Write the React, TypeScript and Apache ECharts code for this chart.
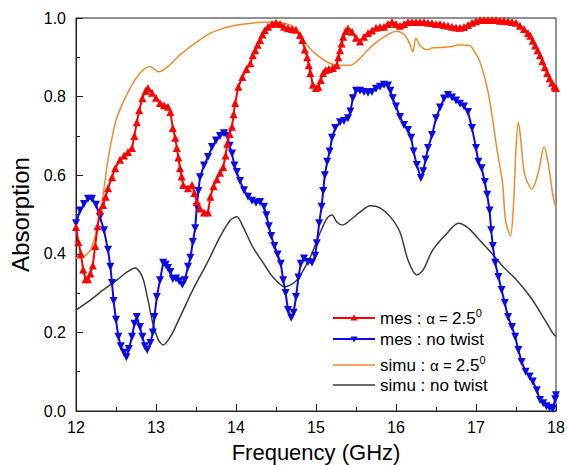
import React, { useEffect, useRef } from "react";
import * as echarts from "echarts";

// ---- measured: alpha = 2.5 deg (red, up triangles)
const redFreq = [
  12.0, 12.03, 12.06, 12.09, 12.12, 12.15, 12.18, 12.21, 12.24, 12.27, 12.3, 12.34, 12.37, 12.4, 12.45, 12.49, 12.55, 12.6, 12.65, 12.7,
  12.73, 12.76, 12.79, 12.83, 12.87, 12.9, 12.95, 13.0, 13.05, 13.1, 13.15, 13.18, 13.21, 13.24, 13.26, 13.28, 13.3, 13.32, 13.34, 13.4,
  13.45, 13.48, 13.51, 13.55, 13.6, 13.65, 13.68, 13.72, 13.76, 13.8, 13.84, 13.87, 13.89, 13.92, 13.95, 13.97, 13.99, 14.03, 14.08, 14.13,
  14.18, 14.21, 14.24, 14.27, 14.3, 14.33, 14.36, 14.4, 14.45, 14.5, 14.55, 14.6, 14.65, 14.7, 14.75, 14.8, 14.83, 14.86, 14.89, 14.91,
  14.93, 14.96, 15.0, 15.03, 15.06, 15.09, 15.12, 15.16, 15.21, 15.26, 15.28, 15.3, 15.32, 15.34, 15.37, 15.4, 15.45, 15.5, 15.55, 15.6,
  15.65, 15.7, 15.75, 15.8, 15.85, 15.9, 15.95, 16.0, 16.05, 16.1, 16.15, 16.2, 16.25, 16.3, 16.35, 16.4, 16.45, 16.5, 16.55, 16.6,
  16.65, 16.7, 16.75, 16.8, 16.85, 16.9, 16.95, 17.0, 17.05, 17.1, 17.15, 17.2, 17.25, 17.3, 17.35, 17.4, 17.45, 17.5, 17.55, 17.6,
  17.65, 17.68, 17.71, 17.74, 17.77, 17.8, 17.83, 17.86, 17.89, 17.92, 17.95, 17.98, 18.0,
];
const redAbs = [
  0.468, 0.43, 0.4, 0.36, 0.335, 0.335, 0.35, 0.37, 0.42, 0.47, 0.51, 0.524, 0.545, 0.567, 0.595, 0.618, 0.639, 0.65, 0.659, 0.669,
  0.7, 0.735, 0.765, 0.796, 0.815, 0.822, 0.81, 0.797, 0.784, 0.778, 0.774, 0.761, 0.72, 0.695, 0.669, 0.645, 0.618, 0.597, 0.575, 0.567,
  0.575, 0.555, 0.532, 0.515, 0.505, 0.505, 0.545, 0.572, 0.59, 0.606, 0.621, 0.65, 0.68, 0.705, 0.723, 0.755, 0.784, 0.825, 0.85, 0.87,
  0.885, 0.905, 0.918, 0.932, 0.944, 0.958, 0.969, 0.978, 0.985, 0.988, 0.985, 0.978, 0.974, 0.972, 0.97, 0.957, 0.944, 0.92, 0.9, 0.88,
  0.86, 0.83, 0.822, 0.825, 0.842, 0.86, 0.868, 0.87, 0.873, 0.88, 0.9, 0.918, 0.935, 0.952, 0.967, 0.973, 0.965, 0.95, 0.94, 0.952,
  0.962, 0.968, 0.975, 0.977, 0.978, 0.985, 0.99, 0.985, 0.98, 0.985, 0.99, 0.99, 0.99, 0.99, 0.99, 0.988, 0.987, 0.985, 0.985, 0.982,
  0.98, 0.978, 0.976, 0.975, 0.977, 0.982, 0.988, 0.992, 0.995, 0.995, 0.995, 0.995, 0.995, 0.993, 0.993, 0.992, 0.99, 0.988, 0.98, 0.972,
  0.962, 0.955, 0.942, 0.93, 0.918, 0.905, 0.89, 0.875, 0.86, 0.847, 0.835, 0.826, 0.822,
];

// ---- measured: no twist (blue, down triangles)
const blueFreq = [
  12.0, 12.05, 12.1, 12.15, 12.2, 12.25, 12.3, 12.35, 12.4, 12.43, 12.45, 12.47, 12.5, 12.53, 12.56, 12.6, 12.63, 12.66, 12.7, 12.73,
  12.76, 12.8, 12.83, 12.86, 12.89, 12.93, 12.96, 12.98, 13.01, 13.05, 13.09, 13.12, 13.15, 13.18, 13.21, 13.25, 13.29, 13.33, 13.36, 13.4,
  13.43, 13.46, 13.49, 13.51, 13.53, 13.55, 13.6, 13.65, 13.7, 13.75, 13.8, 13.85, 13.89, 13.92, 13.95, 13.98, 14.01, 14.05, 14.1, 14.15,
  14.2, 14.25, 14.3, 14.35, 14.38, 14.41, 14.44, 14.48, 14.52, 14.56, 14.59, 14.62, 14.65, 14.69, 14.72, 14.75, 14.78, 14.81, 14.85, 14.9,
  14.95, 14.99, 15.01, 15.04, 15.07, 15.09, 15.11, 15.14, 15.17, 15.2, 15.24, 15.3, 15.35, 15.4, 15.43, 15.46, 15.5, 15.55, 15.6, 15.65,
  15.7, 15.75, 15.8, 15.85, 15.9, 15.93, 15.96, 16.0, 16.05, 16.1, 16.15, 16.19, 16.22, 16.26, 16.31, 16.34, 16.37, 16.4, 16.45, 16.5,
  16.55, 16.6, 16.65, 16.7, 16.75, 16.8, 16.85, 16.9, 16.95, 17.0, 17.03, 17.07, 17.11, 17.14, 17.17, 17.19, 17.21, 17.24, 17.28, 17.32,
  17.36, 17.4, 17.45, 17.49, 17.53, 17.57, 17.62, 17.67, 17.71, 17.76, 17.8, 17.84, 17.88, 17.92, 17.96, 17.99, 18.0,
];
const blueAbs = [
  0.478, 0.51, 0.527, 0.54, 0.54, 0.525, 0.494, 0.46, 0.41, 0.367, 0.326, 0.28, 0.232, 0.189, 0.165, 0.148, 0.137, 0.158, 0.189, 0.222,
  0.239, 0.214, 0.189, 0.165, 0.155, 0.173, 0.2, 0.239, 0.29, 0.333, 0.377, 0.372, 0.364, 0.354, 0.336, 0.337, 0.33, 0.321, 0.333, 0.367,
  0.39, 0.43, 0.465, 0.52, 0.56, 0.595, 0.625, 0.646, 0.672, 0.688, 0.7, 0.707, 0.7, 0.675, 0.655, 0.625, 0.608, 0.585, 0.562, 0.545,
  0.535, 0.53, 0.532, 0.52, 0.498, 0.47, 0.445, 0.42, 0.398, 0.375, 0.333, 0.3, 0.257, 0.237, 0.25, 0.29, 0.34, 0.375, 0.388, 0.379,
  0.377, 0.395, 0.427, 0.478, 0.52, 0.56, 0.6, 0.634, 0.66, 0.695, 0.72, 0.735, 0.738, 0.745, 0.762, 0.796, 0.815, 0.815, 0.812, 0.81,
  0.812, 0.82, 0.825, 0.83, 0.828, 0.815, 0.796, 0.775, 0.748, 0.728, 0.715, 0.695, 0.66, 0.626, 0.593, 0.61, 0.64, 0.669, 0.702, 0.745,
  0.772, 0.795, 0.804, 0.798, 0.79, 0.782, 0.775, 0.761, 0.72, 0.669, 0.634, 0.618, 0.583, 0.55, 0.51, 0.46, 0.42, 0.377, 0.341, 0.308,
  0.275, 0.239, 0.214, 0.189, 0.155, 0.125, 0.1, 0.088, 0.075, 0.053, 0.028, 0.02, 0.012, 0.008, 0.005, 0.03, 0.04,
];

// ---- simulation: alpha = 2.5 deg (orange)
const orangeFreq = [
  12.0, 12.09, 12.18, 12.26, 12.33, 12.39, 12.45, 12.51, 12.59, 12.7, 12.8, 12.89, 12.93, 13.03, 13.14, 13.3, 13.51, 13.71, 14.01, 14.46,
  14.68, 14.78, 14.89, 15.01, 15.14, 15.26, 15.43, 15.59, 15.71, 15.89, 16.01, 16.1, 16.16, 16.21, 16.25, 16.3, 16.39, 16.46, 16.64, 16.8,
  16.92, 16.98, 17.05, 17.14, 17.2, 17.26, 17.33, 17.37, 17.43, 17.47, 17.5, 17.53, 17.56, 17.61, 17.7, 17.78, 17.85, 17.9, 17.96, 18.0,
];
const orangeAbs = [
  0.389, 0.392, 0.41, 0.46, 0.537, 0.626, 0.695, 0.746, 0.786, 0.83, 0.86, 0.875, 0.876, 0.863, 0.875, 0.906, 0.939, 0.964, 0.982, 0.99,
  0.982, 0.964, 0.931, 0.906, 0.888, 0.88, 0.88, 0.906, 0.931, 0.957, 0.966, 0.958, 0.94, 0.914, 0.949, 0.93, 0.919, 0.924, 0.926, 0.931,
  0.93, 0.915, 0.888, 0.822, 0.753, 0.669, 0.583, 0.485, 0.445, 0.53, 0.669, 0.735, 0.69, 0.6, 0.565, 0.608, 0.672, 0.634, 0.55, 0.517,
];

// ---- simulation: no twist (dark grey)
const greyFreq = [
  12.0, 12.18, 12.34, 12.51, 12.64, 12.74, 12.83, 12.9, 12.96, 13.03, 13.09, 13.18, 13.3, 13.46, 13.64, 13.8, 13.93, 14.01, 14.09, 14.21,
  14.34, 14.46, 14.61, 14.76, 14.93, 15.05, 15.14, 15.2, 15.26, 15.33, 15.43, 15.55, 15.68, 15.8, 15.93, 16.05, 16.15, 16.26, 16.34, 16.46,
  16.64, 16.78, 16.89, 17.01, 17.18, 17.34, 17.51, 17.68, 17.84, 17.96, 18.0,
];
const greyAbs = [
  0.257, 0.282, 0.308, 0.333, 0.354, 0.364, 0.341, 0.282, 0.224, 0.181, 0.168, 0.189, 0.239, 0.308, 0.377, 0.443, 0.486, 0.494, 0.468, 0.417,
  0.377, 0.341, 0.316, 0.333, 0.392, 0.453, 0.491, 0.499, 0.481, 0.473, 0.486, 0.506, 0.522, 0.517, 0.494, 0.455, 0.384, 0.346, 0.359, 0.41,
  0.453, 0.478, 0.468, 0.443, 0.405, 0.367, 0.333, 0.29, 0.239, 0.198, 0.19,
];

const xTicks = [12, 13, 14, 15, 16, 17, 18];
const yTicks = [0.0, 0.2, 0.4, 0.6, 0.8, 1.0];

const RED = "#ff0000";
const BLUE = "#0a0ae6";
const ORANGE = "#ee8b2c";
const GREY = "#3c3c3c";
const FONT = "Liberation Sans, Arial, sans-serif";

const pairs = (xs: number[], ys: number[]) => xs.map((x, i) => [x, ys[i]]);

export default function App() {
  const ref = useRef<HTMLDivElement>(null);
  useEffect(() => {
    if (!ref.current) return;
    const chart = echarts.init(ref.current, undefined, { renderer: "svg" });

    const lx0 = 333, lx1 = 375, lmx = 354, ltx = 380;
    const rows = [318, 339, 365, 385];
    const tri = (cx: number, cy: number, up: boolean) => {
      const h = 3.5;
      return up
        ? [[cx, cy - h], [cx - 3.5, cy + h - 1], [cx + 3.5, cy + h - 1]]
        : [[cx, cy + h], [cx - 3.5, cy - h + 1], [cx + 3.5, cy - h + 1]];
    };
    const rich = {
      t: { fontSize: 17, fontFamily: FONT, fill: "#000", lineHeight: 22, verticalAlign: "middle" },
      a: { fontSize: 15, fontFamily: FONT, fill: "#000", lineHeight: 22, verticalAlign: "middle" },
      s: { fontSize: 11, fontFamily: FONT, fill: "#000", lineHeight: 22, verticalAlign: "top" },
    };
    const legendTexts = [
      "{t|mes : }{a|α = }{t|2.5}{s|0}",
      "{t|mes : no twist}",
      "{t|simu : }{a|α = }{t|2.5}{s|0}",
      "{t|simu : no twist}",
    ];
    const legendColors = [RED, BLUE, ORANGE, GREY];
    const graphics: any[] = [];
    rows.forEach((y, i) => {
      graphics.push({
        type: "line",
        shape: { x1: lx0, y1: y, x2: lx1, y2: y },
        style: { stroke: legendColors[i], lineWidth: i < 2 ? 2 : 1.5 },
        silent: true,
      });
      if (i < 2) {
        graphics.push({
          type: "polygon",
          shape: { points: tri(lmx, y, i === 0) },
          style: { fill: legendColors[i] },
          silent: true,
        });
      }
      graphics.push({
        type: "text",
        x: ltx,
        y: y,
        style: {
          text: legendTexts[i],
          rich,
          fill: "#000",
          align: "left",
          verticalAlign: "middle",
          fontFamily: FONT,
          fontSize: 17,
        },
        silent: true,
      });
    });

    chart.setOption({
      animation: false,
      backgroundColor: "#fff",
      grid: {
        left: 76, right: 11, top: 18, bottom: 54,
        outerBoundsMode: "none",
        containLabel: false,
        show: true, borderColor: "#222", borderWidth: 1, backgroundColor: "transparent",
      },
      xAxis: {
        type: "value",
        min: xTicks[0],
        max: xTicks[xTicks.length - 1],
        interval: 1,
        name: "Frequency (GHz)",
        nameLocation: "middle",
        nameGap: 30,
        nameTextStyle: { fontSize: 22, fontFamily: FONT, color: "#000" },
        axisLine: { show: true, onZero: false, lineStyle: { color: "#222", width: 1 } },
        axisTick: { show: true, inside: true, length: 7, lineStyle: { color: "#222" } },
        minorTick: { show: true, splitNumber: 2, length: 4, lineStyle: { color: "#222" } },
        splitLine: { show: false },
        axisLabel: { fontSize: 16, fontFamily: FONT, color: "#000", margin: 8 },
      },
      yAxis: {
        type: "value",
        min: yTicks[0],
        max: yTicks[yTicks.length - 1],
        interval: 0.2,
        name: "Absorption",
        nameLocation: "middle",
        nameGap: 38,
        nameTextStyle: { fontSize: 24, fontFamily: FONT, color: "#000" },
        axisLine: { show: true, lineStyle: { color: "#222", width: 1 } },
        axisTick: { show: true, inside: true, length: 7, lineStyle: { color: "#222" } },
        minorTick: { show: true, splitNumber: 2, length: 4, lineStyle: { color: "#222" } },
        splitLine: { show: false },
        axisLabel: { fontSize: 16, fontFamily: FONT, color: "#000", margin: 10, formatter: (v: number) => v.toFixed(1) },
      },
      series: [
        {
          name: "simu : no twist",
          type: "line",
          data: pairs(greyFreq, greyAbs),
          showSymbol: false,
          smooth: 0.3,
          lineStyle: { color: GREY, width: 1.5 },
          itemStyle: { color: GREY },
          z: 2,
        },
        {
          name: "simu : α = 2.5",
          type: "line",
          data: pairs(orangeFreq, orangeAbs),
          showSymbol: false,
          smooth: 0.3,
          lineStyle: { color: ORANGE, width: 1.5 },
          itemStyle: { color: ORANGE },
          z: 3,
        },
        {
          name: "mes : no twist",
          type: "line",
          data: pairs(blueFreq, blueAbs),
          symbol: "triangle",
          symbolRotate: 180,
          symbolSize: 8,
          showAllSymbol: true,
          lineStyle: { color: BLUE, width: 2 },
          itemStyle: { color: BLUE },
          z: 4,
        },
        {
          name: "mes : α = 2.5",
          type: "line",
          data: pairs(redFreq, redAbs),
          symbol: "triangle",
          symbolSize: 8,
          showAllSymbol: true,
          lineStyle: { color: RED, width: 2 },
          itemStyle: { color: RED },
          z: 5,
        },
      ],
      graphic: graphics,
    });
    return () => chart.dispose();
  }, []);
  return (
    <div
      ref={ref}
      style={{ position: "fixed", left: 0, top: 0, width: 567, height: 465, background: "#fff" }}
    />
  );
}
